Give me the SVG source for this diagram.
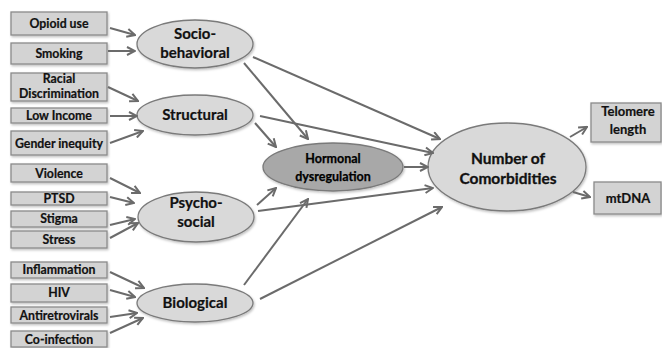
<svg xmlns="http://www.w3.org/2000/svg" width="662" height="348" viewBox="0 0 662 348">
<defs>
<marker id="ah" viewBox="0 0 10 10" refX="9" refY="5" markerWidth="10" markerHeight="10" markerUnits="userSpaceOnUse" orient="auto">
<path d="M1,1 L9,5 L1,9" fill="none" stroke="#6b6b6b" stroke-width="2" stroke-linejoin="miter"/>
</marker>
<filter id="sh" x="-10%" y="-10%" width="130%" height="140%">
<feDropShadow dx="1" dy="1.5" stdDeviation="1" flood-color="#000" flood-opacity="0.25"/>
</filter>
</defs>
<style>
.box{fill:#d3d3d3;stroke:#8a8a8a;stroke-width:1.3;filter:url(#sh)}
.ell{fill:#d9d9d9;stroke:#7a7a7a;stroke-width:1.3;filter:url(#sh)}
.dark{fill:#a8a8a8}
text{font-family:Lato,"Open Sans","Liberation Sans",sans-serif;font-weight:bold;fill:#111;stroke:#111;stroke-width:0.2;text-anchor:middle}
.s{font-size:12.3px}
.m{font-size:15px}
.h{font-size:12.5px;fill:#000;stroke:#000;stroke-width:0.25}
.l{font-size:15.5px;stroke-width:0.3}
.r{font-size:13px}
.c line{stroke:#6b6b6b;stroke-width:2;marker-end:url(#ah)}
</style>
<rect width="662" height="348" fill="#fff"/>

<g id="opioid"><rect class="box" x="11" y="12" width="96" height="23"/><text class="s" x="59" y="28">Opioid use</text></g>
<g id="smoking"><rect class="box" x="11" y="43" width="96" height="21"/><text class="s" x="59" y="58">Smoking</text></g>
<g id="racial"><rect class="box" x="11" y="73" width="96" height="28"/><text class="s" x="59" y="83">Racial</text><text class="s" x="59" y="98">Discrimination</text></g>
<g id="lowincome"><rect class="box" x="11" y="108" width="96" height="15"/><text class="s" x="59" y="120">Low Income</text></g>
<g id="gender"><rect class="box" x="11" y="131" width="96" height="24"/><text class="s" x="59" y="148">Gender inequity</text></g>
<g id="violence"><rect class="box" x="11" y="164" width="96" height="18"/><text class="s" x="59" y="178">Violence</text></g>
<g id="ptsd"><rect class="box" x="11" y="192" width="96" height="13"/><text class="s" x="59" y="203">PTSD</text></g>
<g id="stigma"><rect class="box" x="11" y="211" width="96" height="16"/><text class="s" x="59" y="223">Stigma</text></g>
<g id="stress"><rect class="box" x="11" y="231" width="96" height="17"/><text class="s" x="59" y="244">Stress</text></g>
<g id="inflammation"><rect class="box" x="11" y="262" width="96" height="16"/><text class="s" x="59" y="274">Inflammation</text></g>
<g id="hiv"><rect class="box" x="11" y="284" width="96" height="18"/><text class="s" x="59" y="297">HIV</text></g>
<g id="antiretrovirals"><rect class="box" x="11" y="307" width="96" height="16"/><text class="s" x="59" y="320">Antiretrovirals</text></g>
<g id="coinfection"><rect class="box" x="11" y="331" width="96" height="16"/><text class="s" x="59" y="344">Co-infection</text></g>

<g id="sociobehavioral"><ellipse class="ell" cx="195" cy="44" rx="58" ry="24"/><text class="m" x="195" y="39">Socio-</text><text class="m" x="195" y="58">behavioral</text></g>
<g id="structural"><ellipse class="ell" cx="195" cy="115" rx="58" ry="20"/><text class="m" x="195" y="120">Structural</text></g>
<g id="psychosocial"><ellipse class="ell" cx="196" cy="217" rx="58" ry="25"/><text class="m" x="196" y="208">Psycho-</text><text class="m" x="196" y="227">social</text></g>
<g id="biological"><ellipse class="ell" cx="195" cy="303" rx="58" ry="19"/><text class="m" x="195" y="308">Biological</text></g>
<g id="hormonal"><ellipse class="ell dark" cx="333" cy="167" rx="70" ry="24"/><text class="h" x="333" y="163">Hormonal</text><text class="h" x="333" y="181">dysregulation</text></g>
<g id="comorbidities"><ellipse class="ell" cx="507" cy="167" rx="79" ry="44"/><text class="l" x="508" y="164">Number of</text><text class="l" x="508" y="184">Comorbidities</text></g>
<g id="telomere"><rect class="box" x="591" y="103" width="70" height="39"/><text class="r" x="628" y="116">Telomere</text><text class="r" x="628" y="134">length</text></g>
<g id="mtdna"><rect class="box" x="594" y="182" width="67" height="32"/><text class="r" x="628" y="203">mtDNA</text></g>

<g id="connectors" class="c">
<line x1="110" y1="28" x2="135" y2="35"/>
<line x1="108" y1="51" x2="135" y2="51"/>
<line x1="108" y1="87" x2="138" y2="101"/>
<line x1="110" y1="116" x2="137" y2="116"/>
<line x1="110" y1="143" x2="143" y2="131"/>
<line x1="110" y1="178" x2="140" y2="193"/>
<line x1="110" y1="197" x2="134" y2="203"/>
<line x1="110" y1="225" x2="135" y2="219"/>
<line x1="110" y1="238" x2="138" y2="223"/>
<line x1="110" y1="272" x2="144" y2="288"/>
<line x1="110" y1="290" x2="135" y2="297"/>
<line x1="110" y1="317" x2="137" y2="313"/>
<line x1="110" y1="333" x2="143" y2="318"/>
<line x1="253" y1="57" x2="440" y2="139"/>
<line x1="244" y1="63" x2="308" y2="139"/>
<line x1="260" y1="116" x2="433" y2="153"/>
<line x1="255" y1="123" x2="276" y2="147"/>
<line x1="404" y1="167" x2="428" y2="167"/>
<line x1="257" y1="205" x2="276" y2="188"/>
<line x1="258" y1="211" x2="433" y2="188"/>
<line x1="244" y1="285" x2="308" y2="199"/>
<line x1="260" y1="299" x2="442" y2="207"/>
<line x1="570" y1="137" x2="587" y2="127"/>
<line x1="573" y1="192" x2="590" y2="197"/>
</g>
</svg>
